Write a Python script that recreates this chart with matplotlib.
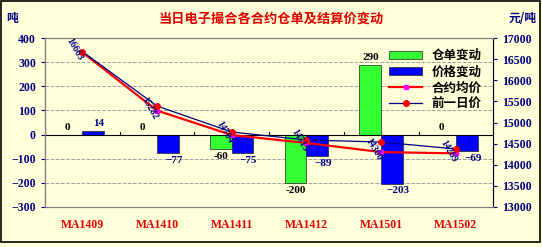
import numpy as np
import matplotlib.pyplot as plt
from matplotlib.patches import Rectangle

plt.rcParams['font.family'] = ['Noto Sans CJK SC', 'DejaVu Sans']

# data
contracts = ["MA1409", "MA1410", "MA1411", "MA1412", "MA1501", "MA1502"]
warrant_change = [0, 0, -60, -200, 290, 0]
price_change = [14, -77, -75, -89, -203, -69]
avg_price = [16663, 15282, 14704, 14515, 14300, 14269]
prev_price = [16680, 15390, 14775, 14586, 14538, 14373]

bg = "#FFFFD9"
navy = "#000080"
serif = ["Liberation Serif", "DejaVu Serif"]

fig = plt.figure(figsize=(5.42, 2.47), dpi=100, facecolor=bg)
ax = fig.add_axes([0.083, 0.162, 0.827, 0.684], facecolor=bg)
ax2 = ax.twinx()

x = np.arange(len(contracts))
w = 0.29
b1 = ax.bar(x - w / 2, warrant_change, w, color="#33FF33", edgecolor="#222222", linewidth=0.5, label="仓单变动", zorder=2)
b2 = ax.bar(x + w / 2, price_change, w, color="#0000FF", edgecolor="#222222", linewidth=0.5, label="价格变动", zorder=2)

ax.set_ylim(-300, 400)
ax.set_xlim(-0.5, len(contracts) - 0.5)
ax.set_yticks(range(-300, 401, 100))
for v in [-200, -100, 100, 200, 300]:
    ax.axhline(v, color="#A0A0A0", linestyle="--", linewidth=0.7, zorder=0)
ax.axhline(0, color="black", linewidth=0.8, zorder=3)
# category separator ticks on the zero line
for s in np.arange(0.5, len(contracts) - 0.5, 1):
    ax.plot([s, s], [0, 12], color="black", linewidth=0.8, zorder=3)

for xi, v in zip(x, warrant_change):
    off = 12 if v >= 0 else -12
    ax.text(xi - w / 2 - (0.05 if v == 0 else 0), v + off, str(v), ha="center",
            va="bottom" if v >= 0 else "top", fontsize=8, fontweight="bold",
            family=serif, color="black", zorder=5)
for xi, v in zip(x, price_change):
    off = 12 if v >= 0 else -12
    ax.text(xi + w / 2 + 0.08, v + off, str(v).replace("-", "\u2212"), ha="center",
            va="bottom" if v >= 0 else "top", fontsize=8, fontweight="bold",
            family=serif, color=navy, zorder=5)

ax2.set_ylim(13000, 17000)
ax2.set_yticks(range(13000, 17001, 500))
l1, = ax2.plot(x, avg_price, color="#FF0000", linewidth=1.6, marker="s", markersize=3,
               markerfacecolor="#FF00FF", markeredgecolor="#FF00FF", label="合约均价", zorder=4)
l2, = ax2.plot(x, prev_price, color=navy, linewidth=0.9, marker="o", markersize=4,
               markerfacecolor="#FF0000", markeredgecolor="#FF0000", label="前一日价", zorder=4)
for xi, v in zip(x, avg_price):
    ax2.text(xi - 0.1, v + 60, str(v), rotation=-60, ha="center", va="center",
             fontsize=7, fontweight="bold", family=serif, color=navy, zorder=6)

ax.set_xticks(x)
ax.set_xticklabels(contracts)
ax.tick_params(axis="x", length=0, pad=6)
for t in ax.get_xticklabels():
    t.set_color("#E00000")
    t.set_fontweight("bold")
    t.set_family(serif)
    t.set_fontsize(8.5)
    t.set_y(-0.02)

for a in (ax, ax2):
    a.tick_params(axis="y", labelsize=8.5, colors=navy, direction="out", length=3)
    for t in a.get_yticklabels():
        t.set_fontweight("bold")
        t.set_family(serif)
        t.set_color(navy)
    for sp in a.spines.values():
        sp.set_color("#808080")
        sp.set_linewidth(0.8)
ax.spines["left"].set_color("black")
ax2.spines["right"].set_color("black")
ax.set_zorder(ax2.get_zorder() - 1)
ax2.patch.set_visible(False)

leg = ax2.legend(handles=[b1, b2, l1, l2], loc="upper right", bbox_to_anchor=(1.0, 1.0),
                 frameon=False, fontsize=9, handlelength=2.6, labelspacing=0.25,
                 prop={"weight": "bold", "size": 9})

fig.text(0.5, 0.925, "当日电子撮合各合约仓单及结算价变动", ha="center", va="center",
         fontsize=9.5, fontweight="bold", color="#E00000")
fig.text(0.012, 0.925, "吨", ha="left", va="center", fontsize=8.5, fontweight="bold", color=navy)
fig.text(0.99, 0.925, "元/吨", ha="right", va="center", fontsize=8.5, fontweight="bold", color=navy)

fig.patches.append(Rectangle((0.002, 0.02), 0.995, 0.975, transform=fig.transFigure,
                             fill=False, edgecolor="black", linewidth=1.2))

fig.savefig("out.png", dpi=100, facecolor=bg)
